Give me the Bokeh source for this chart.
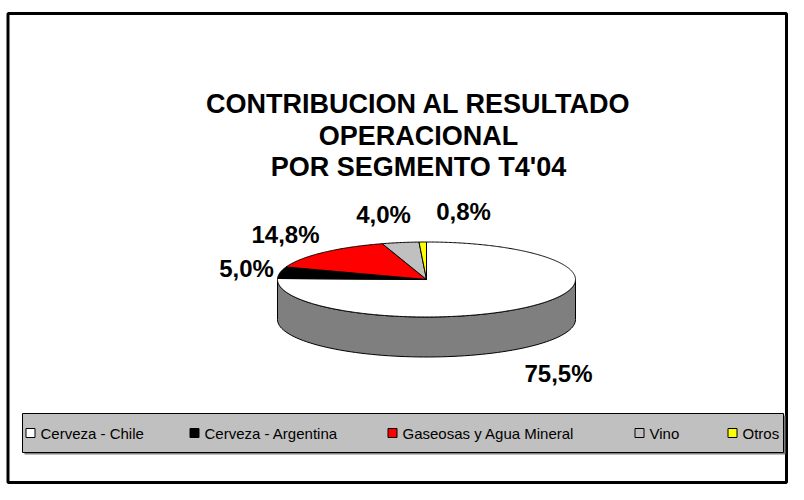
import numpy as np
from bokeh.plotting import figure
from bokeh.models import Range1d
from bokeh.embed import file_html
from bokeh.resources import INLINE
from bokeh.core.properties import value

# ---------------- data ----------------
segments = ["Cerveza - Chile", "Cerveza - Argentina", "Gaseosas y Agua Mineral", "Vino", "Otros"]
shares = [75.5, 5.0, 14.8, 4.0, 0.8]
share_labels = ["75,5%", "5,0%", "14,8%", "4,0%", "0,8%"]
colors = ["#ffffff", "#000000", "#ff0000", "#c0c0c0", "#ffff00"]
title_lines = ["CONTRIBUCION AL RESULTADO", "OPERACIONAL", "POR SEGMENTO T4'04"]

# ---------------- layout / style ----------------
FONT = "Liberation Sans"
W, H = 788, 484
CX, CY, RX, RY, DEPTH = 426, 279, 149, 37.5, 40
label_x = [558, 246, 285, 383, 463]
label_y = [373, 268, 234, 214, 211]
legend_box = (22, 783, 413, 452)
legend_sq_x = [30, 194, 392, 639, 732]
legend_txt_x = [40, 204, 402, 649, 742]

p = figure(width=W, height=H, x_range=Range1d(0, W), y_range=Range1d(H, 0),
           output_backend="svg", toolbar_location=None, min_border=0,
           x_axis_location=None, y_axis_location=None)
p.grid.visible = False
p.outline_line_color = None
p.background_fill_color = "white"
p.border_fill_color = "white"

# outer frame
p.quad(left=[7.5], right=[786], top=[13], bottom=[482], fill_color=None,
       line_color="black", line_width=3)

# title
p.text(x=[418] * 3, y=[103, 135, 166], text=title_lines, text_align="center",
       text_baseline="middle", text_font=value(FONT), text_font_style="bold",
       text_font_size="27px", text_color="black")

# pie geometry
vals = np.array(shares, dtype=float)
frac = vals / vals.sum()
cum = np.concatenate([[0], np.cumsum(frac)])
start_ang = 90 - 360 * cum[:-1]
end_ang = 90 - 360 * cum[1:]


def darken(hexcol, f=0.5):
    r, g, b = int(hexcol[1:3], 16), int(hexcol[3:5], 16), int(hexcol[5:7], 16)
    return "#%02x%02x%02x" % (int(r * f), int(g * f), int(b * f))


# side walls (front half only: angles in [-180, 0])
side_xs, side_ys, side_cols = [], [], []
for a0, a1, col in zip(start_ang, end_ang, colors):
    for shift in (0, -360, 360):
        lo = max(a1 + shift, -180)
        hi = min(a0 + shift, 0)
        if hi > lo:
            t = np.radians(np.linspace(lo, hi, 80))
            xt = CX + RX * np.cos(t)
            yt = CY - RY * np.sin(t)
            side_xs.append(list(xt) + list(xt[::-1]))
            side_ys.append(list(yt) + list((yt + DEPTH)[::-1]))
            side_cols.append(darken(col))
p.patches(side_xs, side_ys, fill_color=side_cols, line_color="black", line_width=1)

# top faces
top_xs, top_ys = [], []
for a0, a1 in zip(start_ang, end_ang):
    n = max(4, int(abs(a0 - a1) * 2))
    t = np.radians(np.linspace(a0, a1, n))
    top_xs.append([CX] + list(CX + RX * np.cos(t)))
    top_ys.append([CY] + list(CY - RY * np.sin(t)))
p.patches(top_xs, top_ys, fill_color=colors, line_color="black", line_width=1)

# data labels
p.text(x=label_x, y=label_y, text=share_labels, text_align="center",
       text_baseline="middle", text_font=value(FONT), text_font_style="bold",
       text_font_size="24px", text_color="black")

# legend
l, r, t, b = legend_box
p.quad(left=[l + 2], right=[r + 2], top=[t + 2], bottom=[b + 2], fill_color="#808080",
       line_color=None)
p.quad(left=[l], right=[r], top=[t], bottom=[b], fill_color="#c0c0c0",
       line_color="black", line_width=1)
ly = (t + b) / 2
p.rect(x=legend_sq_x, y=[ly] * len(segments), width=9, height=9,
       fill_color=colors, line_color="black", line_width=1)
p.text(x=legend_txt_x, y=[ly] * len(segments), text=segments, text_align="left",
       text_baseline="middle", text_font=value(FONT), text_font_size="15px",
       text_color="black")

open("out.html", "w").write(file_html(p, INLINE))
